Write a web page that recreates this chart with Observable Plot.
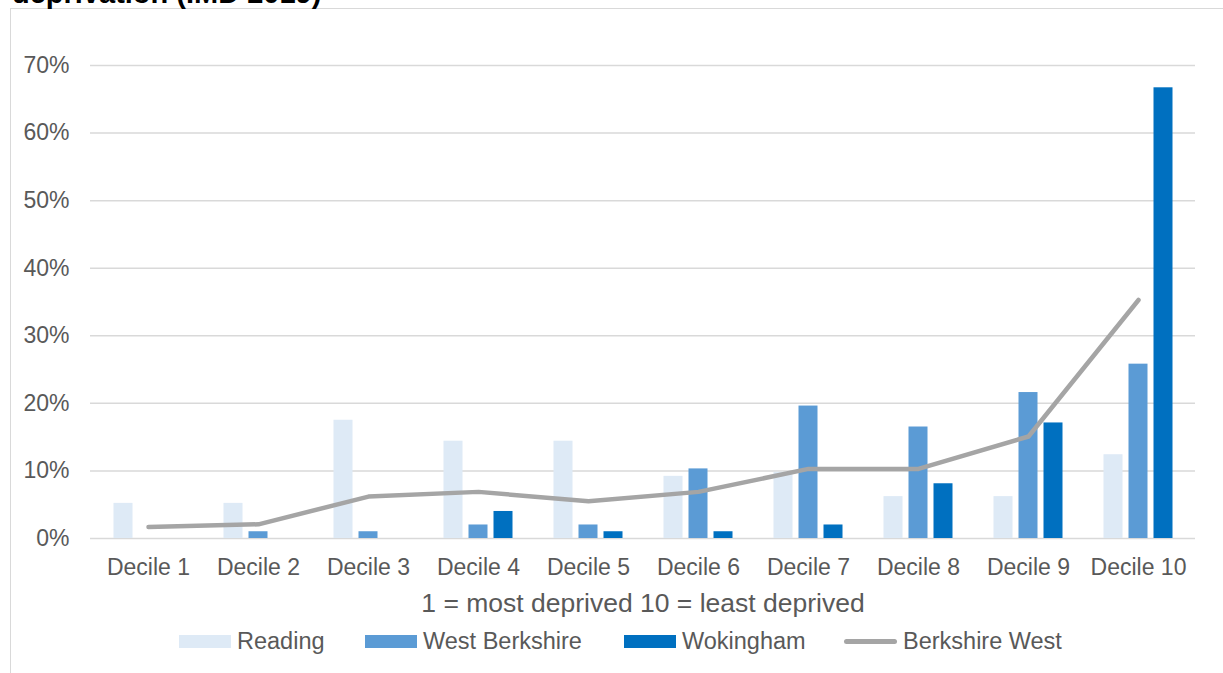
<!DOCTYPE html>
<html>
<head>
<meta charset="utf-8">
<script src="https://cdn.jsdelivr.net/npm/d3@7"></script>
<script src="https://cdn.jsdelivr.net/npm/@observablehq/plot@0.6"></script>
<style>
  html, body { margin: 0; padding: 0; background: #fff; overflow: hidden; }
  body { width: 1223px; height: 673px; position: relative; font-family: "Liberation Sans", Arial, sans-serif; color: #595959; }
  #frame { position: absolute; left: 10px; top: 8px; width: 1240px; height: 700px; border: 1.5px solid #d9d9d9; box-sizing: border-box; }
  #title { position: absolute; left: 12px; top: -21px; font-size: 29px; line-height: 29px; font-weight: bold; color: #000; white-space: nowrap; }
  #chart { position: absolute; left: 0; top: 0; }
  #xtitle { position: absolute; left: 643px; top: 589px; transform: translateX(-50%); font-size: 26.5px; line-height: 29px; white-space: nowrap; }
  .item { position: absolute; top: 628px; height: 26px; display: flex; align-items: center; font-size: 23.5px; white-space: nowrap; }
  .sw { width: 52px; height: 13px; margin-right: 6px; }
  .ln { width: 53px; height: 5px; border-radius: 3px; margin-right: 6px; background: #a5a5a5; }
</style>
</head>
<body>
<div id="frame"></div>
<div id="title">deprivation (IMD 2019)</div>
<div id="chart"></div>
<div id="xtitle">1 = most deprived 10 = least deprived</div>
<div id="legend"></div>
<script>
// Share of each area's neighbourhoods falling in each IMD decile (%)
const deciles = ["Decile 1", "Decile 2", "Decile 3", "Decile 4", "Decile 5",
                 "Decile 6", "Decile 7", "Decile 8", "Decile 9", "Decile 10"];
const reading       = [5.2, 5.2, 17.5, 14.4, 14.4, 9.2, 9.8, 6.2, 6.2, 12.4];
const westBerkshire = [0, 1.0, 1.0, 2.0, 2.0, 10.3, 19.6, 16.5, 21.6, 25.8];
const wokingham     = [0, 0, 0, 4.0, 1.0, 1.0, 2.0, 8.1, 17.1, 66.7];
const berkshireWest = [1.7, 2.1, 6.2, 6.9, 5.5, 6.9, 10.3, 10.3, 15.1, 35.3];
const yTicks = [0, 10, 20, 30, 40, 50, 60, 70];

const seriesNames = ["Reading", "West Berkshire", "Wokingham", "Berkshire West"];
const seriesColors = ["#deeaf6", "#5b9bd5", "#0070c0", "#a5a5a5"];

const rows = (values) => deciles.map((d, i) => ({decile: d, value: values[i]}));

// Bars sit side by side inside each decile's band
const barWidth = 19.5;
const barStep = 25;
const bandWidth = (1195 - 90) / deciles.length;
const inset = (bandWidth - barWidth) / 2;

const bar = (values, color, offset) =>
  Plot.barY(rows(values), {
    x: "decile", y: "value", fill: color,
    insetLeft: inset, insetRight: inset, dx: offset
  });

const chart = Plot.plot({
  width: 1223,
  height: 620,
  marginTop: 65,
  marginBottom: 82,
  marginLeft: 90,
  marginRight: 28,
  style: { fontFamily: "'Liberation Sans', Arial, sans-serif", fontSize: "23px", color: "#595959", background: "transparent" },
  x: { type: "band", domain: deciles, padding: 0, label: null, tickSize: 0, tickPadding: 20 },
  y: { domain: [0, 70], ticks: yTicks, tickFormat: d => d + "%", label: null, tickSize: 0, tickPadding: 21 },
  marks: [
    Plot.gridY(yTicks, { stroke: "#d9d9d9", strokeOpacity: 1, strokeWidth: 1.5 }),
    bar(reading, seriesColors[0], -barStep),
    bar(westBerkshire, seriesColors[1], 0),
    bar(wokingham, seriesColors[2], barStep),
    Plot.line(rows(berkshireWest), {
      x: "decile", y: "value", stroke: seriesColors[3], strokeWidth: 4.5,
      strokeLinecap: "round", strokeLinejoin: "round"
    })
  ]
});
document.getElementById("chart").append(chart);

// Legend below the chart
const legendX = [179, 365, 624, 844];
const legend = document.getElementById("legend");
seriesNames.forEach((name, i) => {
  const item = document.createElement("div");
  item.className = "item";
  item.style.left = legendX[i] + "px";
  const mark = document.createElement("span");
  if (i === 3) {
    mark.className = "ln";
  } else {
    mark.className = "sw";
    mark.style.background = seriesColors[i];
  }
  const label = document.createElement("span");
  label.textContent = name;
  item.append(mark, label);
  legend.append(item);
});
</script>
</body>
</html>
